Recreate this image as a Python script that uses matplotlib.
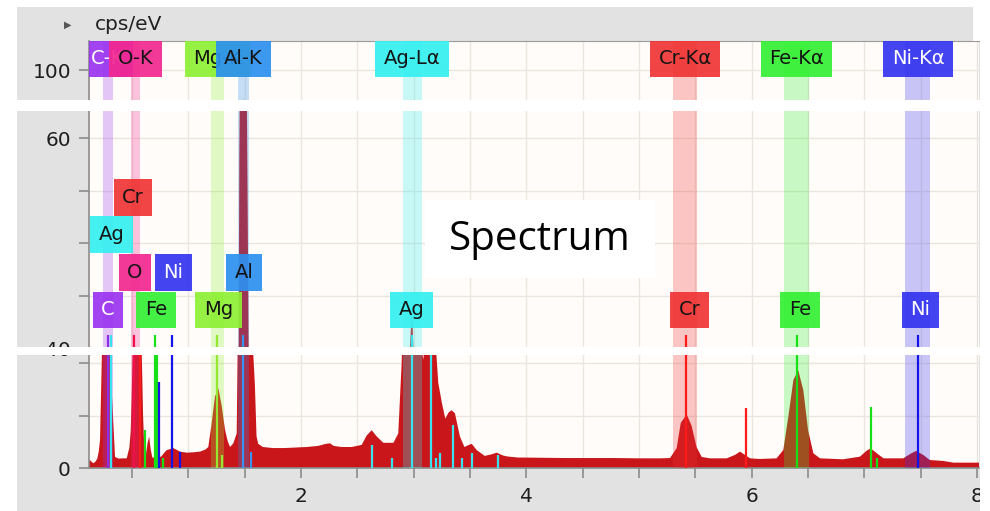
import matplotlib
matplotlib.use("Agg")
import matplotlib.pyplot as plt
from matplotlib.patches import Rectangle
import numpy as np

# ---------------- data ----------------
energy_kev = [0.118, 0.14, 0.156, 0.175, 0.192, 0.205, 0.216, 0.231, 0.245, 0.258, 0.270, 0.282,
              0.292, 0.304, 0.319, 0.334, 0.349, 0.38, 0.42, 0.453, 0.466, 0.476, 0.488, 0.497,
              0.511, 0.525, 0.540, 0.555, 0.570, 0.585, 0.598, 0.608, 0.622, 0.638, 0.652, 0.665,
              0.68, 0.72, 0.76, 0.79, 0.808, 0.866, 0.926, 0.985, 1.05, 1.103, 1.15, 1.177, 1.207,
              1.236, 1.266, 1.296, 1.325, 1.35, 1.37, 1.399, 1.429, 1.438, 1.445, 1.452, 1.465,
              1.478, 1.487, 1.497, 1.510, 1.522, 1.535, 1.548, 1.560, 1.575, 1.590, 1.605, 1.62,
              1.66, 1.75, 1.85, 1.95, 2.05, 2.15, 2.22, 2.257, 2.29, 2.36, 2.45, 2.538, 2.583,
              2.627, 2.672, 2.73, 2.82, 2.863, 2.893, 2.92, 2.95, 2.984, 3.01, 3.04, 3.06, 3.085,
              3.11, 3.13, 3.151, 3.175, 3.20, 3.218, 3.25, 3.28, 3.31, 3.337, 3.366, 3.39, 3.41,
              3.45, 3.49, 3.515, 3.56, 3.63, 3.69, 3.737, 3.79, 3.83, 3.92, 4.10, 4.33, 4.55,
              4.77, 5.00, 5.19, 5.275, 5.334, 5.37, 5.423, 5.467, 5.51, 5.556, 5.63, 5.778, 5.85,
              5.896, 5.94, 5.985, 6.07, 6.22, 6.28, 6.325, 6.37, 6.413, 6.458, 6.50, 6.547, 6.606,
              6.81, 6.96, 7.02, 7.056, 7.11, 7.17, 7.345, 7.405, 7.458, 7.523, 7.58, 7.70, 7.79,
              8.02]
cps_per_ev = [0.85, 0.6, 0.45, 0.6, 0.9, 1.6, 2.7, 10.0, 18, 25, 28, 26,
              18, 11.5, 7.5, 4.3, 1.05, 0.9, 0.92, 0.92, 1.5, 1.9, 3.5, 6.8,
              14, 22, 20, 14, 13, 11.5, 5.0, 2.0, 1.2, 2.4, 3.0, 1.8,
              1.0, 0.95, 1.1, 1.5, 1.7, 1.9, 1.56, 1.46, 1.5, 1.56, 1.75, 2.0, 4.3,
              6.8, 7.6, 5.9, 3.65, 2.5, 2.0, 2.35, 3.3, 12, 35, 58, 78,
              93, 97.5, 92, 78, 60, 40, 20, 13, 11, 8, 3.0, 2.3,
              2.0, 1.9, 1.9, 1.95, 2.0, 2.1, 2.3, 2.35, 2.1, 2.0, 2.0, 2.2, 3.1,
              3.6, 3.0, 2.4, 2.4, 3.3, 10.0, 22, 36, 44, 36, 18, 12, 10.3,
              14, 21, 24, 18, 11, 8.1, 6.2, 4.7, 5.3, 5.5, 5.2, 4.0, 3.0,
              2.0, 2.2, 2.3, 1.7, 1.15, 1.3, 1.46, 1.2, 1.1, 1.0, 0.98, 0.95, 0.95,
              0.95, 0.92, 0.92, 0.95, 1.9, 4.3, 5.1, 4.0, 2.0, 1.05, 0.92, 0.92, 1.24,
              1.56, 1.24, 0.92, 0.86, 0.92, 1.71, 4.9, 8.4, 9.3, 7.4, 3.6, 1.4, 0.92,
              0.83, 1.08, 1.65, 1.87, 1.4, 0.92, 0.92, 1.33, 1.62, 1.24, 0.76, 0.67, 0.51,
              0.51]

marker_energy = [0.283, 0.312, 0.515, 0.573, 0.615, 0.705, 0.718, 0.743, 0.775, 0.851, 0.926,
                 1.253, 1.302, 1.487, 1.557, 2.634, 2.806, 2.984, 3.151, 3.198, 3.23, 3.348,
                 3.426, 3.52, 3.745, 5.414, 5.946, 6.403, 7.057, 7.11, 7.477]
marker_height = [41.2, 41.2, 41.2, 20, 3.6, 41.2, 12, 8.2, 1.0, 41.2, 1.5,
                 41.2, 1.2, 41.2, 1.5, 2.2, 1.0, 41.2, 25, 1.0, 1.4, 4.1,
                 1.0, 1.4, 1.2, 41.2, 5.7, 41.2, 5.8, 1.0, 41.2]
marker_element = ["C", "Ag", "O", "Cr", "Fe", "Fe", "Fe", "Ni", "Fe", "Ni", "Ni",
                  "Mg", "Mg", "Al", "Al", "Ag", "Ag", "Ag", "Ag", "Ag", "Ag", "Ag",
                  "Ag", "Ag", "Ag", "Cr", "Cr", "Fe", "Fe", "Fe", "Ni"]

band_element = ["C", "O", "Mg", "Al", "Ag", "Cr", "Fe", "Ni"]
band_center = [0.283, 0.531, 1.259, 1.489, 2.989, 5.408, 6.397, 7.472]
band_width = [0.09, 0.08, 0.115, 0.105, 0.17, 0.21, 0.22, 0.22]

top_label_text = ["C-K", "O-K", "Mg-K", "Al-K", "Ag-Lα", "Cr-Kα", "Fe-Kα", "Ni-Kα"]
top_label_element = ["C", "O", "Mg", "Al", "Ag", "Cr", "Fe", "Ni"]
top_label_x = [0.283, 0.531, 1.259, 1.489, 2.987, 5.408, 6.397, 7.476]
top_label_y = 101.07

mid_label_text = ["Cr", "Ag", "O", "Ni", "Al", "C", "Fe", "Mg", "Ag", "Cr", "Fe", "Ni"]
mid_label_x = [0.509, 0.318, 0.526, 0.868, 1.494, 0.287, 0.713, 1.267, 2.980, 5.448, 6.428, 7.498]
mid_label_y = [54.33, 50.81, 47.19, 47.19, 47.19, 43.62, 43.62, 43.62, 43.62, 43.62, 43.62, 43.62]

x_ticks = [0.5, 1.0, 1.5, 2.0, 2.5, 3.0, 3.5, 4.0, 4.5, 5.0, 5.5, 6.0, 6.5, 7.0, 7.5, 8.0]
x_tick_labels = ["", "", "", "2", "", "", "", "4", "", "", "", "6", "", "", "", "8"]

# ---------------- style ----------------
box_color = {"C": "#9a34f0", "O": "#f22890", "Mg": "#8ef034", "Al": "#2c90f0",
             "Ag": "#34f0f0", "Cr": "#f03434", "Fe": "#34f034", "Ni": "#3434f0"}
line_color = {"C": "#8c2ee6", "O": "#f0104a", "Mg": "#96e632", "Al": "#3a92f0",
              "Ag": "#38e2ee", "Cr": "#ff1a1a", "Fe": "#18e018", "Ni": "#1414e8"}
white_text = {"C", "Ni"}
SPEC_RED = "#c8161b"
BG = "#fffcf9"
GRID = "#ece5df"
GRAY = "#e2e2e2"
AXIS = "#8c8c8c"

W, H = 990, 511
fig = plt.figure(figsize=(W / 100, H / 100), dpi=100, facecolor="white")


def fr(x0, y0, x1, y1):
    return [x0 / W, 1 - y1 / H, (x1 - x0) / W, (y1 - y0) / H]


# gray frame
fig.add_artist(Rectangle((17 / W, 0), (980 - 17) / W, (H - 7) / H, transform=fig.transFigure,
                         facecolor=GRAY, edgecolor="none", zorder=-10))

XL, XR = 89, 979
xlim = (0.118, 8.017)
ax_top = fig.add_axes(fr(XL, 41, XR, 100))
ax_mid = fig.add_axes(fr(XL, 111, XR, 348))
ax_bot = fig.add_axes(fr(XL, 355, XR, 468))
ax_top.set_ylim(100 - 30 / 10.5, 100 + 29 / 10.5)
ax_mid.set_ylim(40, 40 + 237 / 10.5)
ax_bot.set_ylim(0, 113 / 10.5)

for ax in (ax_top, ax_mid, ax_bot):
    ax.set_facecolor(BG)
    ax.set_xlim(*xlim)
    ax.set_axisbelow(True)
    for s in ("top", "right", "bottom"):
        ax.spines[s].set_visible(False)
    ax.spines["left"].set_color(AXIS)
    ax.spines["left"].set_linewidth(1.2)
    ax.set_xticks(x_ticks)
    ax.grid(True, color=GRID, lw=1.0)
    ax.tick_params(axis="y", length=7, width=1.2, color=AXIS, labelsize=14.5,
                   labelcolor="#1e1e1e", pad=6)
    ax.fill_between(energy_kev, cps_per_ev, 0, color=SPEC_RED, lw=0, zorder=2)
    for el, c, w in zip(band_element, band_center, band_width):
        ax.axvspan(c - w / 2, c + w / 2, color=box_color[el], alpha=0.27, lw=0, zorder=3)
    for e, h, el in zip(marker_energy, marker_height, marker_element):
        ax.vlines(e, 0, h, color=line_color[el], lw=1.6, zorder=4)

ax_top.set_yticks([100])
ax_top.set_yticklabels(["100"])
ax_mid.set_yticks([40, 45, 50, 55, 60])
ax_mid.set_yticklabels(["40", "", "", "", "60"])
ax_bot.set_yticks([0, 5, 10])
ax_bot.set_yticklabels(["0", "", ""])

ax_top.spines["top"].set_visible(True)
ax_top.spines["top"].set_color("#9a9a9a")
for ax in (ax_top, ax_mid):
    ax.tick_params(axis="x", length=0, labelbottom=False)
ax_bot.spines["bottom"].set_visible(True)
ax_bot.spines["bottom"].set_color(AXIS)
ax_bot.spines["bottom"].set_linewidth(1.2)
ax_bot.set_xticklabels(x_tick_labels)
ax_bot.tick_params(axis="x", length=7, width=1.2, color=AXIS, labelsize=14.5,
                   labelcolor="#1e1e1e", pad=7)


def label_box(ax, x, y, text, el):
    t = ax.text(x, y, text, ha="center", va="center", fontsize=14,
                family="DejaVu Sans",
                color="white" if el in white_text else "#141414", zorder=6,
                bbox=dict(boxstyle="square,pad=0.44", facecolor=box_color[el],
                          edgecolor="none", alpha=0.92))
    t.set_clip_on(True)
    t.set_clip_box(ax.bbox)
    return t


for txt, el, x in zip(top_label_text, top_label_element, top_label_x):
    label_box(ax_top, x, top_label_y, txt, el)

mid_label_element = mid_label_text
for txt, el, x, y in zip(mid_label_text, mid_label_element, mid_label_x, mid_label_y):
    label_box(ax_mid, x, y, txt, el)

# white cut strips (screenshot composite)
for (x0, y0, x1, y1) in [(0, 100, W, 111), (0, 347, W, 355), (980, 0, W, H), (973, 0, W, 41)]:
    fig.add_artist(Rectangle((x0 / W, 1 - y1 / H), (x1 - x0) / W, (y1 - y0) / H,
                             transform=fig.transFigure, facecolor="white",
                             edgecolor="none", zorder=20))

# header
fig.text(68 / W, 1 - 25 / H, "▶", fontsize=7, color="#555555", ha="center", va="center")
fig.text(95 / W, 1 - 25 / H, "cps/eV", fontsize=14.5, color="#222222", ha="left", va="center")

# "Spectrum" caption box
fig.add_artist(Rectangle((425 / W, 1 - 278 / H), 230 / W, 78 / H, transform=fig.transFigure,
                         facecolor="white", edgecolor="none", zorder=21))
fig.text(540 / W, 1 - 240 / H, "Spectrum", fontsize=29, family="Open Sans", color="black",
         ha="center", va="center", zorder=22)

fig.savefig("out.png", dpi=100, facecolor="white")
